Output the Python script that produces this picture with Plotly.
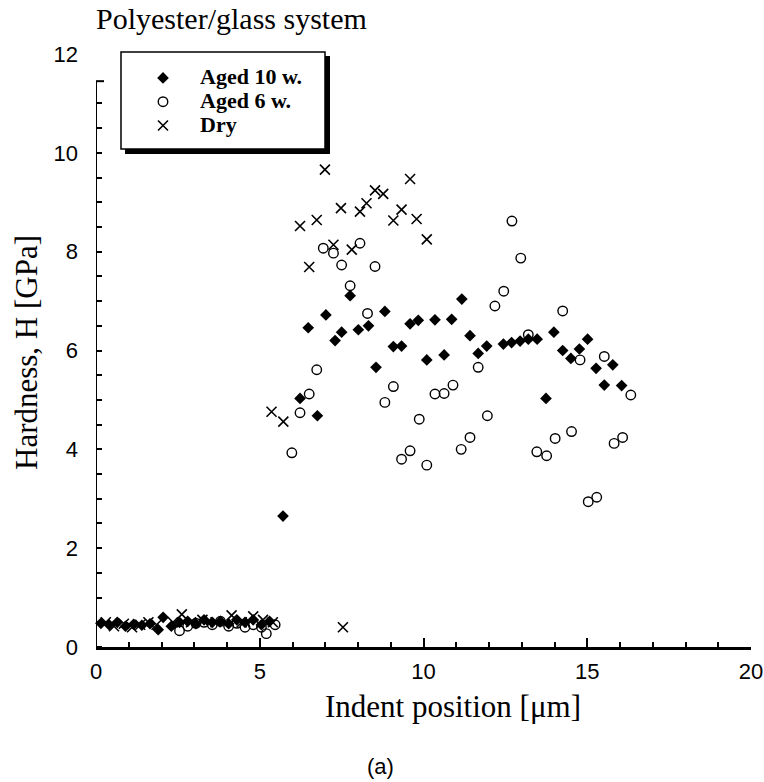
import plotly.graph_objects as go

# ---- Data (Indent position [um], Hardness [GPa]) ----
aged10_x = [0.15, 0.4, 0.65, 0.9, 1.15, 1.4, 1.65, 1.9, 2.05, 2.3, 2.55, 2.8, 3.05, 3.3,
            3.55, 3.8, 4.05, 4.3, 4.55, 4.8, 5.05, 5.3,
            5.71, 6.23, 6.48, 6.76, 7.02, 7.30, 7.50, 7.76, 8.01, 8.32, 8.55, 8.82, 9.08,
            9.33, 9.59, 9.84, 10.1, 10.35, 10.63, 10.86, 11.17, 11.42, 11.67, 11.93, 12.44,
            12.69, 12.95, 13.2, 13.47, 13.74, 13.98, 14.25, 14.50, 14.76, 15.01, 15.27,
            15.52, 15.78, 16.05]
aged10_y = [0.48, 0.45, 0.5, 0.42, 0.46, 0.44, 0.47, 0.35, 0.6, 0.42, 0.5, 0.52, 0.47, 0.55,
            0.5, 0.52, 0.47, 0.55, 0.5, 0.55, 0.45, 0.52,
            2.65, 5.03, 6.46, 4.68, 6.72, 6.20, 6.37, 7.11, 6.42, 6.50, 5.66, 6.79, 6.08,
            6.09, 6.54, 6.61, 5.81, 6.62, 5.91, 6.63, 7.04, 6.30, 5.94, 6.09, 6.13,
            6.16, 6.19, 6.23, 6.23, 5.03, 6.37, 6.00, 5.84, 6.03, 6.23, 5.64,
            5.30, 5.71, 5.29]

aged6_x = [2.55, 2.8, 3.05, 3.3, 3.55, 3.8, 4.05, 4.3, 4.55, 4.8, 5.05, 5.2, 5.47,
           5.98, 6.23, 6.51, 6.74, 6.94, 7.25, 7.50, 7.76, 8.06, 8.29, 8.52, 8.82, 9.08,
           9.33, 9.59, 9.87, 10.1, 10.35, 10.63, 10.9, 11.15, 11.42, 11.67, 11.95, 12.18,
           12.45, 12.7, 12.97, 13.2, 13.46, 13.76, 14.02, 14.25, 14.52, 14.78, 15.03,
           15.29, 15.52, 15.82, 16.08, 16.33]
aged6_y = [0.33, 0.42, 0.48, 0.5, 0.45, 0.52, 0.42, 0.48, 0.4, 0.45, 0.4, 0.27, 0.45,
           3.93, 4.74, 5.12, 5.61, 8.07, 7.97, 7.73, 7.31, 8.17, 6.75, 7.70, 4.95, 5.27,
           3.80, 3.97, 4.61, 3.68, 5.12, 5.13, 5.30, 4.00, 4.24, 5.66, 4.68, 6.90,
           7.20, 8.62, 7.87, 6.32, 3.95, 3.87, 4.22, 6.80, 4.36, 5.81, 2.94,
           3.03, 5.88, 4.12, 4.24, 5.10]

dry_x = [0.3, 0.55, 0.85, 1.1, 1.35, 1.6, 1.85, 2.35, 2.62, 2.9, 3.25, 3.65, 4.14, 4.45,
         4.8, 5.1, 5.4,
         5.36, 5.72, 6.23, 6.51, 6.74, 6.99, 7.25, 7.48, 7.54, 7.81, 8.06, 8.26, 8.52,
         8.77, 9.08, 9.33, 9.59, 9.79, 10.1]
dry_y = [0.5, 0.42, 0.47, 0.4, 0.45, 0.5, 0.45, 0.5, 0.66, 0.5, 0.55, 0.5, 0.64, 0.5,
         0.62, 0.55, 0.5,
         4.76, 4.56, 8.52, 7.69, 8.64, 9.66, 8.14, 8.88, 0.40, 8.04, 8.81, 8.98, 9.24,
         9.17, 8.63, 8.85, 9.47, 8.66, 8.25]

series_names = ["Aged 10 w.", "Aged 6 w.", "Dry"]
x_ticks = [0, 5, 10, 15, 20]
y_ticks = [0, 2, 4, 6, 8, 10, 12]

SERIF = "Liberation Serif, Times New Roman, serif"
SANS = "Liberation Sans, Arial, sans-serif"


def legend_name(s):
    return "<span style='font-size:22px'>" + s + "</span>"


fig = go.Figure()
fig.add_trace(go.Scatter(x=aged10_x, y=aged10_y, mode="markers",
                         name=legend_name(series_names[0]), cliponaxis=False,
                         marker=dict(symbol="diamond", size=9, color="black",
                                     line=dict(width=0))))
fig.add_trace(go.Scatter(x=aged6_x, y=aged6_y, mode="markers",
                         name=legend_name(series_names[1]), cliponaxis=False,
                         marker=dict(symbol="circle-open", size=9.5, color="black",
                                     line=dict(width=1.4, color="black"))))
fig.add_trace(go.Scatter(x=dry_x, y=dry_y, mode="markers",
                         name=legend_name(series_names[2]), cliponaxis=False,
                         marker=dict(symbol="x-thin-open", size=10, color="black",
                                     line=dict(width=1.6, color="black"))))

W, H = 764, 782
L, R, T, B = 96, 13, 54, 135
pw, ph = W - L - R, H - T - B


def px(xr):
    return (xr - L) / pw


def py(yr):
    return (H - B - yr) / ph


shapes = [
    # left axis line (ends below the top tick, as in the scan)
    dict(type="line", xref="x", yref="y", x0=0, x1=0, y0=0, y1=11.45,
         line=dict(color="black", width=2)),
    dict(type="line", xref="paper", yref="y", x0=0, x1=8 / pw, y0=11.45, y1=11.45,
         line=dict(color="black", width=2)),
    # legend shadow + box
    dict(type="rect", xref="paper", yref="paper", x0=px(125), x1=px(330),
         y0=py(154), y1=py(56), fillcolor="black", line=dict(width=0), layer="above"),
    dict(type="rect", xref="paper", yref="paper", x0=px(121), x1=px(325),
         y0=py(149), y1=py(52), fillcolor="white",
         line=dict(color="black", width=1.5), layer="above"),
]

annotations = [
    dict(text="Polyester/glass system", x=px(94), y=py(19), xref="paper", yref="paper",
         xanchor="left", yanchor="middle", showarrow=False,
         font=dict(family=SERIF, size=30, color="black")),
    dict(text="Indent position [\u03bcm]", x=px(453), y=py(706), xref="paper", yref="paper",
         xanchor="center", yanchor="middle", showarrow=False,
         font=dict(family=SERIF, size=31, color="black")),
    dict(text="Hardness, H [GPa]", x=px(26), y=py(353), xref="paper", yref="paper",
         xanchor="center", yanchor="middle", showarrow=False, textangle=-90,
         font=dict(family=SERIF, size=31, color="black")),
    dict(text="(a)", x=px(380), y=py(766), xref="paper", yref="paper",
         xanchor="center", yanchor="middle", showarrow=False,
         font=dict(family=SANS, size=22, color="black")),
]

fig.update_layout(
    width=W, height=H, autosize=False,
    margin=dict(l=L, r=R, t=T, b=B, pad=0, autoexpand=False),
    paper_bgcolor="white", plot_bgcolor="white",
    shapes=shapes, annotations=annotations,
    showlegend=True,
    legend=dict(x=px(126), y=py(61), xanchor="left", yanchor="top",
                bgcolor="rgba(0,0,0,0)", borderwidth=0,
                font=dict(family=SERIF, size=16, color="black", weight="bold"),
                itemwidth=64, tracegroupgap=0),
    xaxis=dict(range=[0, 20], showline=True, linecolor="black", linewidth=2.5,
               automargin=False,
               showgrid=False, zeroline=False, tickmode="array", tickvals=x_ticks,
               ticks="inside", ticklen=9, tickwidth=1.5, tickcolor="black",
               ticklabelstandoff=3,
               tickfont=dict(family=SANS, size=22, color="black"),
               minor=dict(tickvals=list(range(0, 21)), ticks="inside", ticklen=5,
                          tickwidth=1.5, tickcolor="black", showgrid=False)),
    yaxis=dict(range=[0, 12], showline=False, showgrid=False, zeroline=False,
               automargin=False,
               tickmode="array", tickvals=y_ticks, ticks="",
               ticklabelstandoff=17,
               tickfont=dict(family=SANS, size=22, color="black"),
               minor=dict(tickvals=[i * 0.5 for i in range(0, 23)], ticks="inside",
                          ticklen=6, tickwidth=1.5, tickcolor="black", showgrid=False)),
)

fig.write_html("out.html",
               config={"displayModeBar": False},
               post_script="document.body.style.margin='0px';"
                           "document.body.style.overflow='hidden';")
